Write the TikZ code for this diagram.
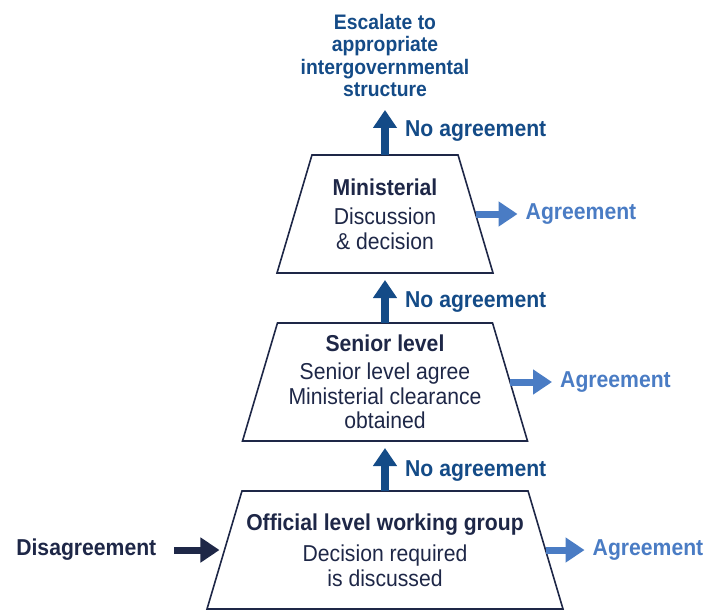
\documentclass[tikz,border=0pt]{standalone}
\usepackage{fontspec}
\setmainfont{Liberation Sans}[FakeStretch=0.92]
\usetikzlibrary{positioning, calc}
\usetikzlibrary{shapes.geometric, arrows.meta}

\definecolor{navy}{RGB}{30,39,71}
\definecolor{deepblue}{RGB}{20,75,135}
\definecolor{lightblue}{RGB}{74,124,196}

\tikzset{
    tier/.style={draw=navy, line width=1.6pt, trapezium,
        trapezium left angle=73.5, trapezium right angle=73.5,
        trapezium stretches body,
        inner xsep=0pt, inner ysep=59pt, outer sep=0pt},
    tiertext/.style={text=navy, align=center, inner sep=0pt,
        font=\fontsize{23}{24.5}\selectfont},
    lbl/.style={inner sep=0pt, font=\bfseries\fontsize{23}{25}\selectfont},
    up/.style={color=deepblue, line width=8pt,
        -{Triangle[length=18pt,width=23pt]}},
    side/.style={line width=7pt, -{Triangle[length=19pt,width=24pt]}},
}

\begin{document}
\begin{tikzpicture}[x=1pt, y=-1pt]
    \useasboundingbox (0,0) rectangle (708,612);

    % the three tiers
    \node[tier, minimum width=216pt] (T1) at (385,214) {};
    \node[tier, minimum width=285pt, below=50pt of T1] (T2) {};
    \node[tier, minimum width=356pt, below=50pt of T2] (T3) {};

    \node[tiertext] (t1) at (T1) {\textbf{Ministerial}\\[5pt]Discussion\\\& decision};
    \node[tiertext] (t2) at (T2) {\textbf{Senior level}\\[4pt]Senior level agree\\Ministerial clearance\\obtained};
    \node[tiertext] (t3) at (T3) {\textbf{Official level working group}\\[7pt]Decision required\\is discussed};

    \node[inner sep=0pt, text=deepblue, align=center,
        font=\bfseries\fontsize{21}{22.3}\selectfont,
        above=58pt of T1] (E) {Escalate to\\appropriate\\intergovernmental\\structure};

    % escalation
    \coordinate (c1) at ($(T1.north)!0.5!(E.south)$);
    \coordinate (c2) at ($(T2.north)!0.5!(T1.south)$);
    \coordinate (c3) at ($(T3.north)!0.5!(T2.south)$);
    \node[lbl, text=deepblue, right=20pt of c1, yshift=-5pt] (N1) {No agreement};
    \node[lbl, text=deepblue, right=20pt of c2, yshift=-4pt] (N2) {No agreement};
    \node[lbl, text=deepblue, right=20pt of c3, yshift=-5pt] (N3) {No agreement};

    \draw[up, shorten >=13pt] (T1.north) -- (E.south);
    \draw[up, shorten >=7pt] (T2.north) -- (T1.south);
    \draw[up, shorten >=7pt] (T3.north) -- (T2.south);

    % agreement exits
    \node[lbl, text=lightblue, right=50pt of T1.east] (A1) {Agreement};
    \node[lbl, text=lightblue, right=50pt of T2.east] (A2) {Agreement};
    \node[lbl, text=lightblue, right=47pt of T3.east] (A3) {Agreement};
    \draw[side, color=lightblue, shorten >=8pt] (T1.east) -- (A1);
    \draw[side, color=lightblue, shorten >=8pt] (T2.east) -- (A2);
    \draw[side, color=lightblue, shorten >=8pt] (T3.east) -- (A3);

    % entry
    \node[lbl, text=navy, left=68pt of T3.west] (D) {Disagreement};
    \draw[side, color=navy, shorten <=18pt, shorten >=5pt] (D) -- (T3);
\end{tikzpicture}
\end{document}
